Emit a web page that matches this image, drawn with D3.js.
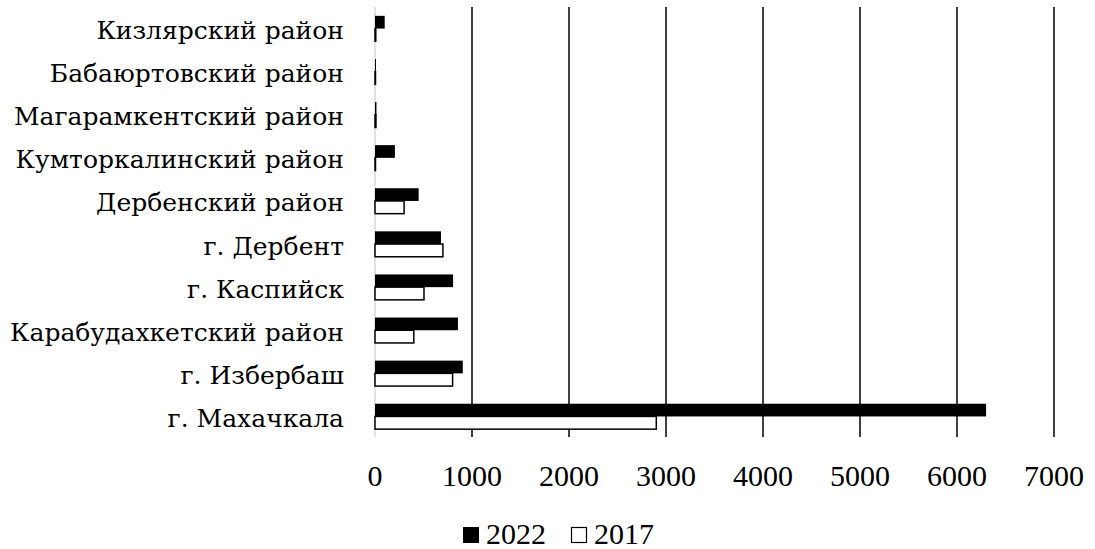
<!DOCTYPE html>
<html><head><meta charset="utf-8">
<script src="https://cdn.jsdelivr.net/npm/d3@7/dist/d3.min.js"></script>
<style>body{margin:0;background:#fff}svg{display:block}text{font-family:"Liberation Serif","Times New Roman",serif;fill:#000}
.cat{font-family:"DejaVu Serif",serif}</style>
</head><body>
<svg id="c" width="1095" height="549"></svg>
<script>
const categories = ["Кизлярский район","Бабаюртовский район","Магарамкентский район","Кумторкалинский район","Дербенский район","г. Дербент","г. Каспийск","Карабудахкетский район","г. Избербаш","г. Махачкала"];
const series = ["2022","2017"];
const values2022 = [100, 10, 15, 205, 450, 680, 805, 855, 905, 6300];
const values2017 = [8, 5, 10, 5, 300, 700, 505, 400, 800, 2900];
const xTicks = [0,1000,2000,3000,4000,5000,6000,7000];

const svg = d3.select("#c");
const x = d3.scaleLinear().domain([0,7000]).range([375,1054]);
const y = d3.scaleBand().domain(categories).range([7,438]).paddingInner(0.41).paddingOuter(0.205);
const ys = d3.scaleBand().domain(series).range([0,y.bandwidth()]);

// gridlines
svg.append("g").selectAll("line").data(xTicks.filter(d=>d>0)).join("line")
  .attr("x1",d=>x(d)).attr("x2",d=>x(d)).attr("y1",7).attr("y2",437)
  .attr("stroke","#000").attr("stroke-width",1.5);
svg.append("line").attr("x1",x(0)).attr("x2",x(0)).attr("y1",7).attr("y2",437)
  .attr("stroke","#d9d9d9").attr("stroke-width",1.5);

const data = categories.map((c,i)=>({c, v:{"2022":values2022[i],"2017":values2017[i]}}));
const g = svg.append("g");
data.forEach(d=>{
  series.forEach(s=>{
    const r = g.append("rect")
      .attr("x",x(0)).attr("y",y(d.c)+ys(s))
      .attr("width",Math.max(0,x(d.v[s])-x(0))).attr("height",ys.bandwidth());
    if(s==="2022") r.attr("fill","#000");
    else r.attr("fill","#fff").attr("stroke","#000").attr("stroke-width",1.5);
  });
});

// category labels (DejaVu Serif condensed horizontally to Times-like width)
const labX = 344;
const lab = svg.append("g");
const labT = lab.selectAll("text").data(categories).join("text").attr("class","cat")
  .attr("x",0).attr("y",d=>y(d)+y.bandwidth()/2+10.5)
  .attr("text-anchor","end").attr("font-size",25).text(d=>d);
const longest = labT.filter(d=>d==="Карабудахкетский район").node().getComputedTextLength();
const sx = 334/longest;
lab.attr("transform",`translate(${labX},0) scale(${sx},1)`);

// x tick labels
svg.append("g").selectAll("text").data(xTicks).join("text")
  .attr("x",d=>x(d)).attr("y",486).attr("text-anchor","middle").attr("font-size",30).text(d=>d);

// legend
const lg = svg.append("g");
lg.append("rect").attr("x",463).attr("y",527).attr("width",16).attr("height",16).attr("fill","#000");
lg.append("text").attr("x",486).attr("y",544).attr("font-size",30).text(series[0]);
lg.append("rect").attr("x",571.5).attr("y",527.5).attr("width",15).attr("height",15).attr("fill","#fff").attr("stroke","#000").attr("stroke-width",1.2);
lg.append("text").attr("x",594).attr("y",544).attr("font-size",30).text(series[1]);
</script>
</body></html>
